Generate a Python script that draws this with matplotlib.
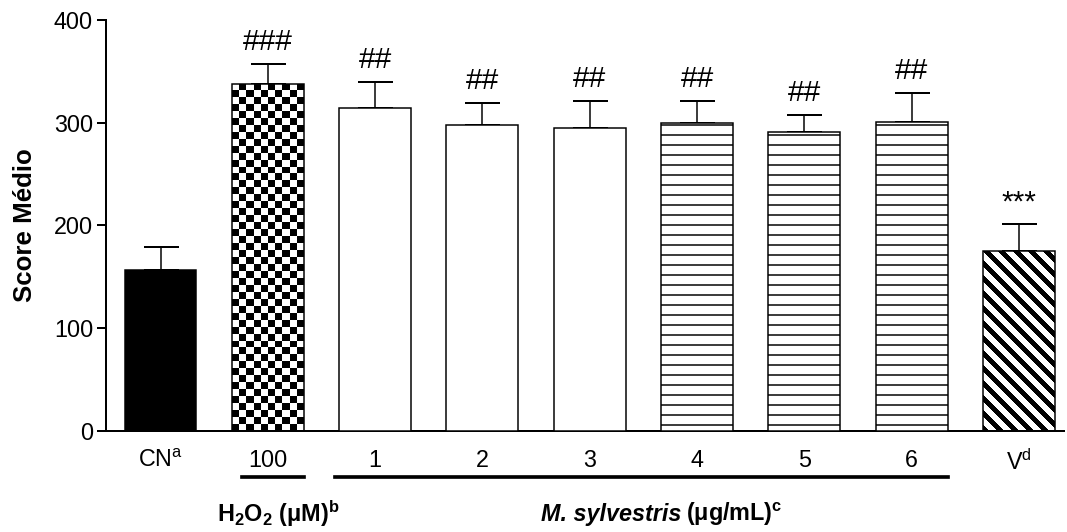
import numpy as np
import matplotlib
matplotlib.use("Agg")
import matplotlib.pyplot as plt
from matplotlib.transforms import blended_transform_factory

plt.rcParams['font.family'] = 'Liberation Sans'
plt.rcParams['mathtext.fontset'] = 'custom'
plt.rcParams['mathtext.rm'] = 'Liberation Sans'
plt.rcParams['mathtext.it'] = 'Liberation Sans:italic'
plt.rcParams['mathtext.bf'] = 'Liberation Sans:bold'
plt.rcParams['mathtext.default'] = 'regular'
plt.rcParams['hatch.linewidth'] = 0.9

# dados
grupos = ["CN$^{a}$", "100", "1", "2", "3", "4", "5", "6", "V$^{d}$"]
medias = [157, 338, 314, 298, 295, 300, 291, 301, 175]
erros = [22, 19, 26, 21, 26, 21, 17, 28, 26]
sinais = ["", "###", "##", "##", "##", "##", "##", "##", "***"]
padroes = ["solido", "xadrez", "vazio", "vazio", "vazio", "linhas", "linhas", "linhas", "diagonal"]

DPI = 120
fig = plt.figure(figsize=(1067 / DPI, 532 / DPI), dpi=DPI)
ax = fig.add_axes([106 / 1067, 101 / 532, 958 / 1067, 411 / 532])
ax.set_xlim(-0.508, 8.42)
ax.set_ylim(0, 400)

x = np.arange(len(grupos))
largura = 0.67

ax.errorbar(x, medias, yerr=[np.zeros(len(erros)), erros], fmt='none', ecolor='black',
            elinewidth=0.9, capsize=10.5, capthick=1.2, zorder=1)

faces = []
for p in padroes:
    if p == "solido":
        faces.append("black")
    elif p in ("xadrez", "diagonal"):
        faces.append("none")
    else:
        faces.append("white")

barras = ax.bar(x, medias, width=largura, color=faces, edgecolor='black', linewidth=0.9, zorder=3)


def textura(barra, tipo):
    x0, w, h = barra.get_x(), barra.get_width(), barra.get_height()
    p0 = ax.transData.transform((x0, 0))
    p1 = ax.transData.transform((x0 + w, h))
    wpx, hpx = int(round(p1[0] - p0[0])), int(round(p1[1] - p0[1]))
    if tipo == "xadrez":
        nc, nr = int(round(wpx / 7)), int(round(hpx / 7))
        img = (np.add.outer(np.arange(nr), np.arange(nc)) % 2).astype(float)
    else:
        r, c = np.mgrid[0:hpx, 0:wpx]
        img = (((c - r) % 15) < 7).astype(float)
    im = ax.imshow(img, extent=(x0, x0 + w, 0, h), cmap='gray_r', vmin=0, vmax=1,
                   interpolation='nearest', aspect='auto', origin='upper', zorder=2)
    im.set_clip_path(barra)


for barra, p in zip(barras, padroes):
    if p in ("xadrez", "diagonal"):
        textura(barra, p)
    elif p == "linhas":
        barra.set_hatch("--")

ax.set_xlim(-0.508, 8.42)
ax.set_ylim(0, 400)

for xi, m, e, s in zip(x, medias, erros, sinais):
    if s:
        ax.annotate(s, (xi, m + e), xytext=(0, 8.4), textcoords='offset points',
                    ha='center', va='baseline', fontsize=18)

ax.spines['top'].set_visible(False)
ax.spines['right'].set_visible(False)
ax.spines['left'].set_linewidth(1.2)
ax.spines['bottom'].set_linewidth(1.2)
ax.set_yticks([0, 100, 200, 300, 400])
ax.tick_params(axis='y', length=5.4, width=1.2, pad=2.4, labelsize=14)
ax.set_xticks(x)
ax.set_xticklabels(grupos)
ax.tick_params(axis='x', length=0, pad=11, labelsize=14)

ax.set_ylabel("Score Médio", fontsize=15.5, fontweight='bold')
ax.yaxis.set_label_coords(-0.072, 0.5)

# linhas de agrupamento
trans = blended_transform_factory(ax.transData, ax.transAxes)
ax.plot([0.755, 1.34], [-0.112, -0.112], color='black', lw=2.2, transform=trans, clip_on=False)
ax.plot([1.63, 7.34], [-0.112, -0.112], color='black', lw=2.2, transform=trans, clip_on=False)
ax.text(1.1, -0.202, "$\\mathbf{H_2O_2}$ (μM)$^{\\mathbf{b}}$", transform=trans, ha='center',
        va='center', fontsize=14, fontweight='bold')
ax.text(4.85, -0.202, "M. sylvestris", transform=trans, ha='right', va='center',
        fontsize=14, fontweight='bold', fontstyle='italic')
ax.text(4.9, -0.202, "(μg/mL)$^{\\mathbf{c}}$", transform=trans, ha='left', va='center',
        fontsize=14, fontweight='bold')

fig.savefig("out.png", dpi=DPI)
